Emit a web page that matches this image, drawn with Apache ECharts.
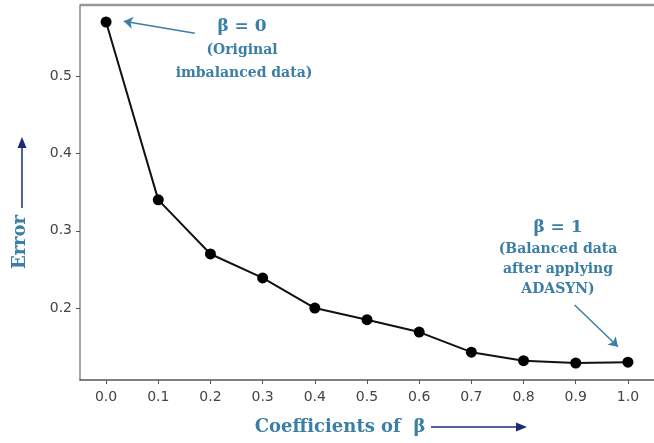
<!DOCTYPE html>
<html><head><meta charset="utf-8">
<script src="https://cdn.jsdelivr.net/npm/echarts@6/dist/echarts.min.js"></script>
<style>html,body{margin:0;padding:0;background:#fff}#c{width:654px;height:443px}</style>
</head><body><div id="c"></div>
<script>
const betas = [0.0, 0.1, 0.2, 0.3, 0.4, 0.5, 0.6, 0.7, 0.8, 0.9, 1.0];
const errors = [0.570, 0.340, 0.270, 0.239, 0.200, 0.185, 0.169, 0.143, 0.132, 0.129, 0.130];
const xTicks = [0.0, 0.1, 0.2, 0.3, 0.4, 0.5, 0.6, 0.7, 0.8, 0.9, 1.0];
const yTicks = [0.2, 0.3, 0.4, 0.5];
const note0 = ['β = 0', '(Original', 'imbalanced data)'];
const note1 = ['β = 1', '(Balanced data', 'after applying', 'ADASYN)'];
const xTitle = 'Coefficients of  β';
const yTitle = 'Error';

const teal = '#3b7ea6';
const navy = '#1c2a7a';
const serif = '"DejaVu Serif","Liberation Serif",serif';

const chart = echarts.init(document.getElementById('c'));
const textStyle = (size) => ({fontFamily: serif, fontWeight: 'bold', fontSize: size, fill: teal, textAlign: 'center', textVerticalAlign: 'middle'});

chart.setOption({
  animation: false,
  grid: {left: 80, top: 5, right: -10, bottom: 63},
  xAxis: {
    type: 'value', min: -0.05, max: 1.05,
    axisLine: {show: true, onZero: false, lineStyle: {color: '#555', width: 1.5}},
    axisTick: {show: true, inside: false, length: 4, lineStyle: {color: '#555'}, customValues: xTicks},
    axisLabel: {color: '#444', fontSize: 14, fontFamily: '"DejaVu Sans",sans-serif', margin: 10,
      customValues: xTicks, formatter: v => v.toFixed(1)},
    splitLine: {show: false}
  },
  yAxis: {
    type: 'value', min: 0.107, max: 0.592,
    axisLine: {show: true, onZero: false, lineStyle: {color: '#888', width: 1.5}},
    axisTick: {show: true, length: 4, lineStyle: {color: '#555'}, customValues: yTicks},
    axisLabel: {color: '#444', fontSize: 14, fontFamily: '"DejaVu Sans",sans-serif', margin: 8,
      customValues: yTicks, formatter: v => v.toFixed(1)},
    splitLine: {show: false}
  },
  series: [{
    type: 'line',
    data: betas.map((b, i) => [b, errors[i]]),
    symbol: 'circle', symbolSize: 11,
    itemStyle: {color: '#000'},
    lineStyle: {color: '#111', width: 2},
    markLine: {
      silent: true, symbol: ['none', 'arrow'], symbolSize: 9,
      lineStyle: {color: teal, width: 1.5, type: 'solid'},
      label: {show: false},
      data: [
        [{coord: [0.170, 0.5555]}, {coord: [0.034, 0.571]}],
        [{coord: [0.898, 0.204]}, {coord: [0.981, 0.150]}]
      ]
    }
  }],
  graphic: [
    {type: 'line', shape: {x1: 80, y1: 5, x2: 654, y2: 5}, style: {stroke: '#999', lineWidth: 2.5}},
    {type: 'text', x: 242, y: 27, style: Object.assign(textStyle(17), {text: note0[0]})},
    {type: 'text', x: 242, y: 50, style: Object.assign(textStyle(14), {text: note0[1]})},
    {type: 'text', x: 244, y: 73, style: Object.assign(textStyle(14), {text: note0[2]})},
    {type: 'text', x: 558, y: 228, style: Object.assign(textStyle(17), {text: note1[0]})},
    {type: 'text', x: 558, y: 249, style: Object.assign(textStyle(14), {text: note1[1]})},
    {type: 'text', x: 558, y: 269, style: Object.assign(textStyle(14), {text: note1[2]})},
    {type: 'text', x: 558, y: 289, style: Object.assign(textStyle(14), {text: note1[3]})},
    {type: 'text', x: 20, y: 242, rotation: Math.PI / 2,
      style: Object.assign(textStyle(18), {text: yTitle})},
    {type: 'line', shape: {x1: 22, y1: 208, x2: 22, y2: 145}, style: {stroke: navy, lineWidth: 1.5}},
    {type: 'polygon', shape: {points: [[22, 137], [17.5, 148], [26.5, 148]]}, style: {fill: navy}},
    {type: 'text', x: 340, y: 427, style: Object.assign(textStyle(18), {text: xTitle})},
    {type: 'line', shape: {x1: 431, y1: 427, x2: 518, y2: 427}, style: {stroke: navy, lineWidth: 1.5}},
    {type: 'polygon', shape: {points: [[527, 427], [516, 422.5], [516, 431.5]]}, style: {fill: navy}}
  ]
});
</script></body></html>
